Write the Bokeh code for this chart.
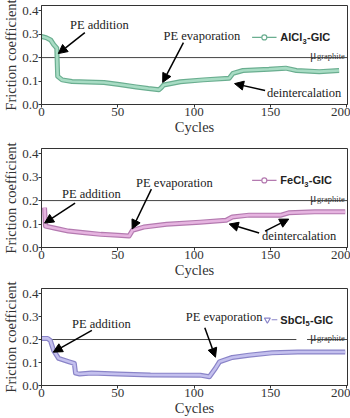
from bokeh.plotting import figure
from bokeh.layouts import column
from bokeh.models import Arrow, NormalHead, FixedTicker, PrintfTickFormatter, Range1d
from bokeh.core.properties import value
from bokeh.embed import file_html
from bokeh.resources import INLINE

# ---- data ----
al_x = [0, 3, 6, 8, 10, 10.6, 13.5, 20, 30, 41, 51, 62, 70, 77, 78.5, 80, 91, 106, 123, 125.5, 132, 149, 160, 167, 182, 195]
al_y = [0.29, 0.285, 0.275, 0.255, 0.24, 0.12, 0.105, 0.098, 0.096, 0.094, 0.085, 0.075, 0.068, 0.063, 0.072, 0.083,
        0.097, 0.105, 0.112, 0.133, 0.145, 0.15, 0.155, 0.145, 0.14, 0.145]

fe_x = [2, 2.6, 9, 17.6, 28.4, 39, 50, 57.4, 59.6, 67, 82, 104, 121, 125, 136, 157, 162, 179, 199]
fe_y = [0.17, 0.091, 0.082, 0.07, 0.063, 0.056, 0.052, 0.049, 0.073, 0.087, 0.099, 0.108, 0.116, 0.13, 0.138,
        0.138, 0.148, 0.152, 0.152]

sb_x = [0, 4, 5.8, 7.9, 11.2, 17.6, 21.5, 22.3, 25, 32.7, 50, 71.4, 104, 110, 114, 116.6, 125, 136, 151, 168, 199]
sb_y = [0.205, 0.205, 0.196, 0.153, 0.118, 0.104, 0.096, 0.054, 0.05, 0.054, 0.05, 0.046, 0.045, 0.038, 0.075,
        0.103, 0.122, 0.132, 0.142, 0.146, 0.146]

x_ticks = [0, 50, 100, 150, 200]
y_ticks = [0.0, 0.1, 0.2, 0.3, 0.4]
mu_graphite = 0.2

SERIF = "Liberation Serif"
SANS = "Liberation Sans"
PX_PER_UNIT = 1.55  # horizontal pixels per cycle


def make_panel(xs, ys, light, dark, marker, base, sub, base_em, top, bottom, height,
               annotations, arrows, mu_gap=None, legend_line=(138, 154), legend_marker_x=146, marker_size=5):
    p = figure(width=350, height=height, output_backend="svg", toolbar_location=None,
               x_range=Range1d(0, 200.5), y_range=Range1d(0, 0.422),
               min_border_left=36, min_border_right=3, min_border_top=top, min_border_bottom=bottom)
    p.grid.visible = False
    p.outline_line_color = "#333333"
    p.outline_line_width = 1
    p.background_fill_color = "white"
    for ax in (p.xaxis[0], p.yaxis[0]):
        ax.axis_line_color = "#333333"
        ax.major_tick_line_color = "#333333"
        ax.major_tick_out = 3
        ax.major_tick_in = 0
        ax.minor_tick_line_color = None
        ax.major_label_text_font = SERIF
        ax.major_label_text_font_size = "13px"
        ax.major_label_text_color = "#333333"
        ax.axis_label_text_font = SERIF
        ax.axis_label_text_font_size = "14.5px"
        ax.axis_label_text_font_style = "normal"
        ax.axis_label_text_color = "#333333"
        ax.major_label_standoff = 0
        ax.axis_label_standoff = 0
    p.xaxis.ticker = FixedTicker(ticks=x_ticks)
    p.yaxis.ticker = FixedTicker(ticks=y_ticks)
    p.yaxis.formatter = PrintfTickFormatter(format="%.1f")
    p.xaxis.axis_label = "Cycles"
    p.yaxis.axis_label = "Friction coefficient"

    # mu graphite reference line
    if mu_gap is None:
        p.segment(x0=[0], y0=[mu_graphite], x1=[200.5], y1=[mu_graphite], line_color="#444444", line_width=1)
    else:
        p.segment(x0=[0, mu_gap[1]], y0=[mu_graphite] * 2, x1=[mu_gap[0], 200.5], y1=[mu_graphite] * 2,
                  line_color="#444444", line_width=1)
    p.text(x=[176], y=[0.212], text=["\u03bc"], text_font=value(SERIF), text_font_size="12px",
           text_color="#333333", text_baseline="alphabetic")
    p.text(x=[180.5], y=[0.207], text=["graphite"], text_font=value(SERIF), text_font_size="8.5px",
           text_color="#333333", text_baseline="alphabetic")

    # data band
    p.line(xs, ys, line_color=dark, line_width=5, line_join="round")
    p.line(xs, ys, line_color=light, line_width=2.6, line_join="round")

    # legend
    ly = 0.286
    p.segment(x0=[legend_line[0]], y0=[ly], x1=[legend_line[1]], y1=[ly], line_color=dark, line_width=1.2)
    p.scatter([legend_marker_x], [ly], marker=marker, size=marker_size, fill_color="white",
              line_color=dark, line_width=1.2)
    fs = 11.0
    x_base = 156.5
    x_sub = x_base + base_em * fs / PX_PER_UNIT + 0.3
    x_rest = x_sub + 4.6 / PX_PER_UNIT
    p.text(x=[x_base], y=[ly], text=[base], text_font=value(SANS), text_font_style="bold",
           text_font_size="11px", text_color="#222222", text_baseline="middle")
    p.text(x=[x_sub], y=[ly - 0.017], text=[sub], text_font=value(SANS), text_font_style="bold",
           text_font_size="7.5px", text_color="#222222", text_baseline="middle")
    p.text(x=[x_rest], y=[ly], text=["-GIC"], text_font=value(SANS), text_font_style="bold",
           text_font_size="11px", text_color="#222222", text_baseline="middle")

    # annotations
    tx, ty, tt = zip(*annotations)
    p.text(x=list(tx), y=list(ty), text=list(tt), text_font=value(SERIF), text_font_size="12.5px",
           text_color="#222222", text_baseline="middle")
    for (x0, y0, x1, y1) in arrows:
        p.add_layout(Arrow(end=NormalHead(size=9, fill_color="black", line_color="black"),
                           x_start=x0, y_start=y0, x_end=x1, y_end=y1,
                           line_color="black", line_width=1.5))
    return p


p1 = make_panel(al_x, al_y, "#a8dcc4", "#6aae90", "circle", "AlCl", "3", 2.0, 5, 34, 138,
                [(18.7, 0.34, "PE addition"), (80, 0.294, "PE evaporation"), (147.7, 0.051, "deintercalation")],
                [(28.4, 0.306, 11, 0.217), (93, 0.264, 79.4, 0.094), (146.5, 0.06, 126.5, 0.089)])
p2 = make_panel(fe_x, fe_y, "#e6b4e0", "#b47ab0", "circle", "FeCl", "3", 2.167, 10, 33, 142,
                [(13.5, 0.228, "PE addition"), (62, 0.274, "PE evaporation"), (144.5, 0.049, "deintercalation")],
                [(22, 0.189, 2, 0.104), (72, 0.249, 59.4, 0.079), (142.6, 0.062, 123, 0.1),
                 (146.5, 0.07, 162, 0.121)])
p3 = make_panel(sb_x, sb_y, "#c4c0ee", "#8a84c8", "inverted_triangle", "SbCl", "5", 2.278, 8, 32, 138,
                [(20, 0.268, "PE addition"), (94.5, 0.298, "PE evaporation")],
                [(33, 0.24, 7.7, 0.145), (107, 0.251, 114, 0.123)], mu_gap=(167, 174),
                legend_line=(150.8, 154.5), legend_marker_x=148, marker_size=6)

layout = column(p1, p2, p3, spacing=0)
open("out.html", "w").write(file_html(layout, INLINE))
